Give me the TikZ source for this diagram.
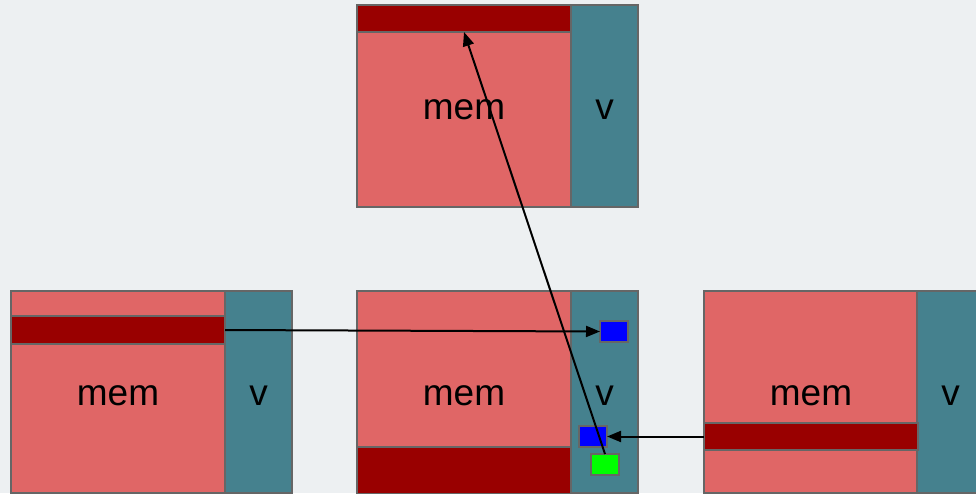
\documentclass[tikz,border=0pt]{standalone}
\usepackage{fontspec}
\setmainfont{Liberation Sans}
\usetikzlibrary{arrows.meta}
\definecolor{memc}{HTML}{E06666}
\definecolor{darkc}{HTML}{990000}
\definecolor{vc}{HTML}{45818E}
\definecolor{bordc}{HTML}{666666}
\definecolor{bgc}{HTML}{EDF0F2}
\definecolor{bluec}{HTML}{0000FF}
\definecolor{greenc}{HTML}{00FF00}
\newcommand{\boxlbl}[1]{\smash{\raisebox{-13.5pt}{#1}}}
\begin{document}
\begin{tikzpicture}[x=1pt,y=-1pt,
  part/.style={draw=bordc, line width=1.5pt, inner sep=0pt, outer sep=0pt, anchor=north west, font=\fontsize{37}{42}\selectfont},
  memrect/.style={part, fill=memc, minimum width=214pt, minimum height=202pt},
  vrect/.style={part, fill=vc, minimum width=67pt, minimum height=202pt},
  bar/.style={part, fill=darkc, minimum width=214pt},
  cell/.style={part, line width=1.2pt, minimum width=28pt, minimum height=21pt},
  arr/.style={line width=2pt, -{Triangle[length=14pt,width=11pt]}}]
\useasboundingbox (0,0) rectangle (976,493);
\fill[bgc] (0,0) rectangle (976,493);
\begin{scope}
\clip (0,0) rectangle (976,493);
% top
\node[memrect] (Tm) at (357,5) {\boxlbl{mem}};
\node[vrect] (Tv) at (571,5) {\boxlbl{v}};
\node[bar, minimum height=27pt] (Tb) at (357,5) {};
% left
\node[memrect] (Lm) at (11,291) {\boxlbl{mem}};
\node[vrect] (Lv) at (225,291) {\boxlbl{v}};
\node[bar, minimum height=28pt] (Lb) at (11,316) {};
% middle
\node[memrect] (Mm) at (357,291) {\boxlbl{mem}};
\node[vrect] (Mv) at (571,291) {\boxlbl{v}};
\node[bar, minimum height=47pt] (Mb) at (357,447) {};
% right
\node[memrect] (Rm) at (704,291) {\boxlbl{mem}};
\node[vrect] (Rv) at (917,291) {\boxlbl{v}};
\node[bar, minimum height=27pt] (Rb) at (704,423) {};
% cells
\node[cell, fill=bluec] (B1) at (600,321) {};
\node[cell, fill=bluec] (B2) at (579,426) {};
\node[cell, fill=greenc] (G) at (591,454) {};
\end{scope}
\draw[arr] (Lb.east) -- (B1.west);
\draw[arr] (Rb.west) -- (B2.east);
\draw[arr] (G.north) -- (Tb.south);
\end{tikzpicture}
\end{document}
